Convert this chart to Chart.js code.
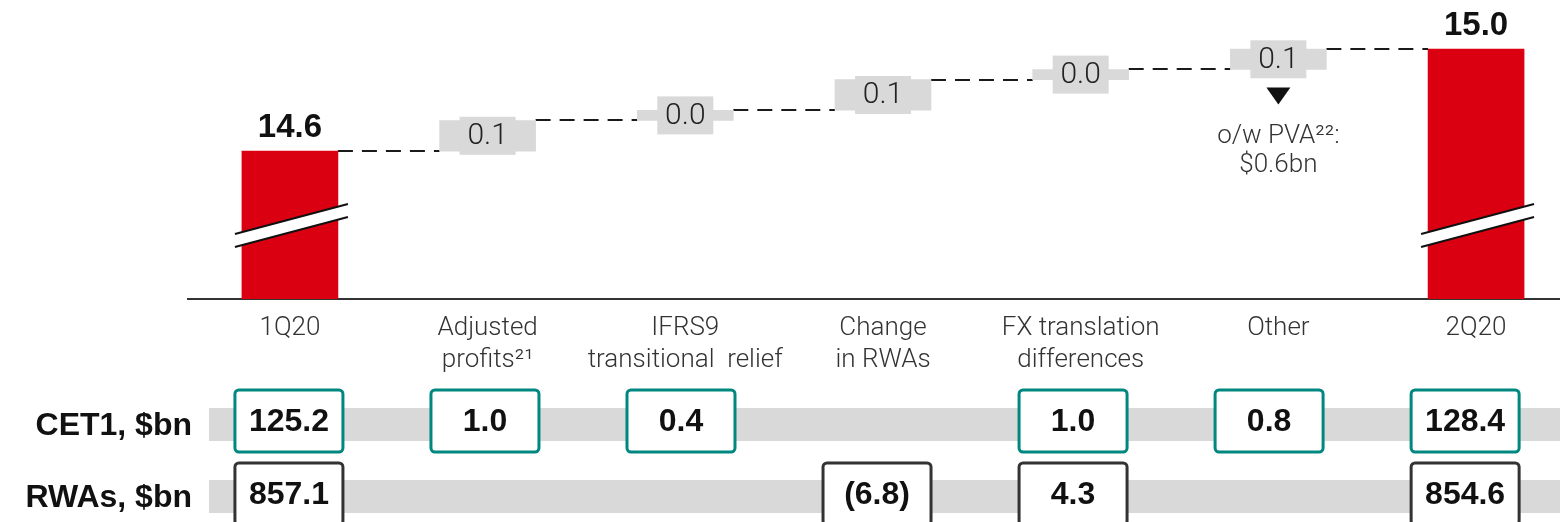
<!DOCTYPE html>
<html>
<head>
<meta charset="utf-8">
<script src="https://cdn.jsdelivr.net/npm/chart.js@4.4.1/dist/chart.umd.min.js"></script>
<style>
  html, body { margin: 0; padding: 0; background: #fff; }
  #wrap { width: 1560px; height: 522px; }
</style>
</head>
<body>
<div id="wrap"><canvas id="c"></canvas></div>
<script>
// Data.
const categories = [
  ['1Q20'],
  ['Adjusted', 'profits²¹'],
  ['IFRS9', 'transitional  relief'],
  ['Change', 'in RWAs'],
  ['FX translation', 'differences'],
  ['Other'],
  ['2Q20'],
];
// Running CET1 ratio level after each step (%).
const levels = [14.6, 14.72, 14.76, 14.88, 14.92, 15.0];
const stepLabels = ['14.6', '0.1', '0.0', '0.1', '0.0', '0.1', '15.0'];
const cet1 = ['125.2', '1.0', '0.4', null, '1.0', '0.8', '128.4'];
const rwas = ['857.1', null, null, '(6.8)', '4.3', null, '854.6'];
const rowLabels = ['CET1, $bn', 'RWAs, $bn'];
const pvaNote = ['o/w PVA²²:', '$0.6bn'];

const yMin = 14.02;
const yMax = 15.1925;

const RED = '#db0011';
const GREY = '#d9d9d9';
const TEAL = '#00877f';
const DARK = '#333333';

const lastIdx = categories.length - 1;
const barData = categories.map((c, i) => {
  if (i === 0) return {x: i, y: [yMin, levels[0]]};
  if (i === lastIdx) return {x: i, y: [yMin, levels[levels.length - 1]]};
  return {x: i, y: [levels[i - 1], levels[i]]};
});
const barColors = categories.map((c, i) => (i === 0 || i === lastIdx ? RED : GREY));

function drawBreak(ctx, cx, base) {
  const x0 = cx - 55, x1 = cx + 58;
  const yL = base - 65, yR = base - 95, gap = 13;
  ctx.save();
  ctx.fillStyle = '#fff';
  ctx.beginPath();
  ctx.moveTo(x0, yL);
  ctx.lineTo(x1, yR);
  ctx.lineTo(x1, yR + gap);
  ctx.lineTo(x0, yL + gap);
  ctx.closePath();
  ctx.fill();
  ctx.strokeStyle = '#111';
  ctx.lineWidth = 2;
  ctx.beginPath();
  ctx.moveTo(x0, yL);
  ctx.lineTo(x1, yR);
  ctx.moveTo(x0, yL + gap);
  ctx.lineTo(x1, yR + gap);
  ctx.stroke();
  ctx.restore();
}

function roundRect(ctx, x, y, w, h, r) {
  ctx.beginPath();
  ctx.moveTo(x + r, y);
  ctx.lineTo(x + w - r, y);
  ctx.arcTo(x + w, y, x + w, y + r, r);
  ctx.lineTo(x + w, y + h - r);
  ctx.arcTo(x + w, y + h, x + w - r, y + h, r);
  ctx.lineTo(x + r, y + h);
  ctx.arcTo(x, y + h, x, y + h - r, r);
  ctx.lineTo(x, y + r);
  ctx.arcTo(x, y, x + r, y, r);
  ctx.closePath();
}

const waterfallDecor = {
  id: 'waterfallDecor',
  beforeDatasetsDraw(chart) {
    const ctx = chart.ctx;
    const meta = chart.getDatasetMeta(0);
    const y = chart.scales.y;
    ctx.save();
    ctx.strokeStyle = '#1a1a1a';
    ctx.lineWidth = 2;
    ctx.setLineDash([15, 9]);
    levels.forEach((lv, k) => {
      const a = meta.data[k];
      const b = meta.data[k + 1];
      const py = Math.round(y.getPixelForValue(lv));
      ctx.beginPath();
      ctx.moveTo(a.x + a.width / 2, py);
      ctx.lineTo(b.x - b.width / 2, py);
      ctx.stroke();
    });
    ctx.restore();
  },
  afterDatasetsDraw(chart) {
    const ctx = chart.ctx;
    const meta = chart.getDatasetMeta(0);
    const area = chart.chartArea;
    ctx.save();
    meta.data.forEach((el, i) => {
      if (i === 0 || i === lastIdx) {
        drawBreak(ctx, el.x, area.bottom);
        ctx.fillStyle = '#111';
        ctx.font = 'bold 33px "Liberation Sans", Arial, sans-serif';
        ctx.textAlign = 'center';
        ctx.textBaseline = 'alphabetic';
        ctx.fillText(stepLabels[i], el.x, el.y - 14);
      } else {
        const mid = (el.y + el.base) / 2;
        ctx.fillStyle = GREY;
        ctx.fillRect(el.x - 28, mid - 19, 56, 38);
        ctx.fillStyle = '#222';
        ctx.font = '300 30px Roboto, "Liberation Sans", sans-serif';
        ctx.textAlign = 'center';
        ctx.textBaseline = 'middle';
        ctx.fillText(stepLabels[i], el.x, mid + 1);
      }
    });

    // PVA note under "Other"
    const other = meta.data[5];
    const tTop = other.base + 18;
    ctx.fillStyle = '#111';
    ctx.beginPath();
    ctx.moveTo(other.x - 12, tTop);
    ctx.lineTo(other.x + 12, tTop);
    ctx.lineTo(other.x, tTop + 17);
    ctx.closePath();
    ctx.fill();
    ctx.fillStyle = '#333';
    ctx.font = '300 26px Roboto, "Liberation Sans", sans-serif';
    ctx.textAlign = 'center';
    ctx.textBaseline = 'middle';
    ctx.fillText(pvaNote[0], other.x, tTop + 49);
    ctx.fillText(pvaNote[1], other.x, tTop + 78);
    ctx.restore();
  },
  afterDraw(chart) {
    // CET1 / RWAs table under the axis
    const ctx = chart.ctx;
    const xt = chart.scales.xt;
    const rows = [
      {vals: cet1, band: 425, boxTop: 390, color: TEAL},
      {vals: rwas, band: 497, boxTop: 463, color: DARK},
    ];
    ctx.save();
    rows.forEach((row, r) => {
      ctx.fillStyle = GREY;
      ctx.fillRect(209, row.band - 17, chart.width - 209, 33);
      ctx.fillStyle = '#111';
      ctx.font = 'bold 32px "Liberation Sans", Arial, sans-serif';
      ctx.textAlign = 'right';
      ctx.textBaseline = 'middle';
      ctx.fillText(rowLabels[r], 192, row.band + 1);
      row.vals.forEach((v, i) => {
        if (v === null) return;
        const cx = xt.getPixelForValue(i);
        roundRect(ctx, cx - 54, row.boxTop, 108, 62, 4);
        ctx.fillStyle = '#fff';
        ctx.fill();
        ctx.lineWidth = 3;
        ctx.strokeStyle = row.color;
        ctx.stroke();
        ctx.fillStyle = '#111';
        ctx.textAlign = 'center';
        ctx.fillText(v, cx, row.boxTop + 32);
      });
    });
    ctx.restore();
  },
};

new Chart(document.getElementById('c'), {
  type: 'bar',
  data: {
    datasets: [{
      data: barData,
      xAxisID: 'x',
      yAxisID: 'y',
      backgroundColor: barColors,
      barThickness: 96,
      borderWidth: 0,
    }],
  },
  options: {
    responsive: true,
    maintainAspectRatio: false,
    animation: false,
    layout: {padding: {left: 188, right: 0, top: 0, bottom: 0}},
    plugins: {legend: {display: false}, tooltip: {enabled: false}},
    scales: {
      x: {
        type: 'linear',
        offset: false,
        min: -0.5156,
        max: 6.4246,
        grid: {display: false, drawTicks: false, offset: false},
        border: {display: true, color: '#333', width: 2},
        afterBuildTicks: (s) => { s.ticks = categories.map((c, i) => ({value: i})); },
        afterFit: (s) => { s.height = 223; },
        ticks: {
          callback: (v) => categories[v],
          font: {family: 'Roboto', size: 26, weight: 300, lineHeight: 32 / 26},
          color: '#333',
          padding: 13,
          maxRotation: 0,
          autoSkip: false,
        },
      },
      xt: {type: 'linear', axis: 'x', display: false, offset: false, min: -0.5149, max: 6.484},
      y: {display: false, min: yMin, max: yMax},
    },
  },
  plugins: [waterfallDecor],
});
</script>
</body>
</html>
